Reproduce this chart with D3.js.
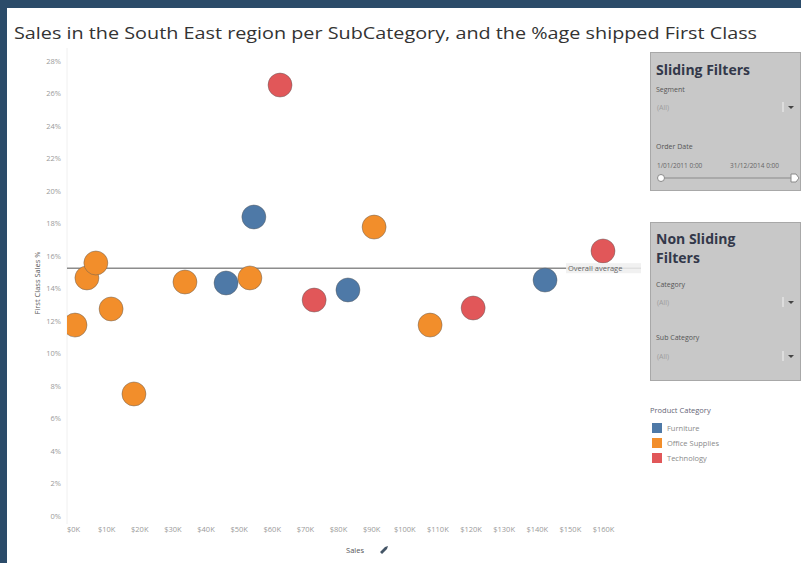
<!DOCTYPE html>
<html>
<head>
<meta charset="utf-8">
<script src="https://cdn.jsdelivr.net/npm/d3@7"></script>
<style>
  body { margin: 0; background: #ffffff; }
  svg { display: block; }
</style>
</head>
<body>
<svg id="chart" width="801" height="563"></svg>
<script>
// ---- data ----
const categories = ["Furniture", "Office Supplies", "Technology"];
const categoryColors = ["#4e79a7", "#f28e2b", "#e15759"];

// one entry per sub-category, ordered by sales
const pointCategory = [
  "Office Supplies", "Office Supplies", "Office Supplies", "Office Supplies",
  "Office Supplies", "Office Supplies", "Furniture", "Office Supplies",
  "Furniture", "Technology", "Technology", "Furniture", "Office Supplies",
  "Office Supplies", "Technology", "Furniture", "Technology"
];
const salesK = [0.6, 4.2, 6.9, 11.5, 18.4, 33.8, 46.2, 53.4, 54.6, 62.5, 72.8, 83.0, 90.9, 107.8, 120.8, 142.5, 160.0];
const firstClassPct = [11.75, 14.65, 15.57, 12.74, 7.51, 14.40, 14.34, 14.65, 18.40, 26.52, 13.29, 13.91, 17.78, 11.75, 12.80, 14.52, 16.31];
const overallAverage = 15.25;

const xTicks = [0, 10, 20, 30, 40, 50, 60, 70, 80, 90, 100, 110, 120, 130, 140, 150, 160];
const yTicks = [0, 2, 4, 6, 8, 10, 12, 14, 16, 18, 20, 22, 24, 26, 28];

const titleText = "Sales in the South East region per SubCategory, and the %age shipped First Class";

// ---- layout ----
const svg = d3.select("#chart");
const font = "'Open Sans', 'DejaVu Sans', sans-serif";

// dark frame
svg.append("rect").attr("x", 0).attr("y", 0).attr("width", 801).attr("height", 563).attr("fill", "#2b4b69");
svg.append("rect").attr("x", 7).attr("y", 8).attr("width", 794).attr("height", 555).attr("fill", "#ffffff");

svg.append("text")
  .attr("x", 14).attr("y", 39)
  .attr("font-family", font).attr("font-size", 17)
  .attr("fill", "#333333")
  .attr("textLength", 743).attr("lengthAdjust", "spacingAndGlyphs")
  .text(titleText);

const x = d3.scaleLinear().domain([0, 160]).range([73, 603]);
const y = d3.scaleLinear().domain([0, 28]).range([516, 61]);
const color = d3.scaleOrdinal().domain(categories).range(categoryColors);

const pane = { left: 67, right: 641, top: 48, bottom: 524 };

// pane clip
svg.append("defs").append("clipPath").attr("id", "paneClip")
  .append("rect")
  .attr("x", pane.left).attr("y", pane.top)
  .attr("width", pane.right - pane.left).attr("height", pane.bottom - pane.top);

// faint pane border on the left
svg.append("line")
  .attr("x1", pane.left).attr("x2", pane.left)
  .attr("y1", pane.top).attr("y2", pane.bottom)
  .attr("stroke", "#f0f0f0").attr("stroke-width", 1);

// y axis
const yAxis = d3.axisLeft(y).tickValues(yTicks).tickSize(0).tickPadding(0)
  .tickFormat(d => d + "%");
const gy = svg.append("g").attr("transform", "translate(61,0)").call(yAxis);
gy.select(".domain").remove();
gy.selectAll("text")
  .attr("font-family", font).attr("font-size", 7.5).attr("fill", "#9a9a9a");

svg.append("text")
  .attr("transform", "translate(40,283) rotate(-90)")
  .attr("text-anchor", "middle")
  .attr("font-family", font).attr("font-size", 7.5).attr("fill", "#555555")
  .text("First Class Sales %");

// x axis
const xAxis = d3.axisBottom(x).tickValues(xTicks).tickSize(0).tickPadding(0)
  .tickFormat(d => "$" + d + "K");
const gx = svg.append("g").attr("transform", "translate(0,527)").call(xAxis);
gx.select(".domain").remove();
gx.selectAll("text")
  .attr("font-family", font).attr("font-size", 7.5).attr("fill", "#9a9a9a");

svg.append("text")
  .attr("x", 355).attr("y", 553)
  .attr("text-anchor", "middle")
  .attr("font-family", font).attr("font-size", 7.5).attr("fill", "#555555")
  .text("Sales");
// small sort icon beside the axis title
svg.append("path")
  .attr("d", "M380,552 L385,547 L387,549 L382,554 Z M385,547 L388,546 L387,549 Z")
  .attr("fill", "#445566");

// reference line
const plot = svg.append("g").attr("clip-path", "url(#paneClip)");
plot.append("line")
  .attr("x1", pane.left).attr("x2", pane.right)
  .attr("y1", y(overallAverage)).attr("y2", y(overallAverage))
  .attr("stroke", "#8c8c8c").attr("stroke-width", 1.5);

// points
const points = salesK.map((s, i) => ({ s, p: firstClassPct[i], c: pointCategory[i] }));
plot.selectAll("circle.mark")
  .data(points)
  .join("circle")
  .attr("class", "mark")
  .attr("cx", d => x(d.s))
  .attr("cy", d => y(d.p))
  .attr("r", 12)
  .attr("fill", d => color(d.c))
  .attr("stroke", "rgba(90,90,90,0.45)")
  .attr("stroke-width", 1);

// reference line label
const refY = y(overallAverage);
svg.append("rect")
  .attr("x", 566).attr("y", refY - 5).attr("width", 75).attr("height", 10)
  .attr("fill", "#eeeeee").attr("fill-opacity", 0.85);
svg.append("text")
  .attr("x", 568).attr("y", refY + 3)
  .attr("font-family", font).attr("font-size", 7.5).attr("fill", "#666666")
  .text("Overall average");

// ---- filter panels ----
function panel(y0, h) {
  svg.append("rect")
    .attr("x", 650.5).attr("y", y0 + 0.5).attr("width", 150).attr("height", h)
    .attr("fill", "#c8c8c8").attr("stroke", "#a8a8a8").attr("stroke-width", 1);
}
function label(xp, yp, txt, size, fill, weight) {
  return svg.append("text")
    .attr("x", xp).attr("y", yp)
    .attr("font-family", font).attr("font-size", size)
    .attr("font-weight", weight || "normal")
    .attr("fill", fill).text(txt);
}
function dropdown(yp) {
  label(657, yp + 3, "(All)", 7, "#9d9d9d");
  svg.append("line").attr("x1", 783).attr("x2", 783).attr("y1", yp - 5).attr("y2", yp + 5)
    .attr("stroke", "#e4e4e4").attr("stroke-width", 1.5);
  svg.append("path").attr("d", `M788,${yp - 1} L794,${yp - 1} L791,${yp + 2} Z`).attr("fill", "#444");
}

panel(52, 138);
label(656, 75, "Sliding Filters", 14, "#33384a", "bold");
label(656, 92, "Segment", 7, "#555555");
dropdown(107);
label(656, 149, "Order Date", 7, "#555555");
label(657, 168, "1/01/2011 0:00", 6.5, "#666666");
label(730, 168, "31/12/2014 0:00", 6.5, "#666666");
svg.append("line").attr("x1", 661).attr("x2", 794).attr("y1", 178).attr("y2", 178)
  .attr("stroke", "#8a8a8a").attr("stroke-width", 1);
svg.append("circle").attr("cx", 661).attr("cy", 178).attr("r", 3.5)
  .attr("fill", "#ffffff").attr("stroke", "#8a8a8a");
svg.append("path").attr("d", "M791,174 L796,174 L799,178 L796,182 L791,182 Z")
  .attr("fill", "#ffffff").attr("stroke", "#8a8a8a");

panel(222, 158);
label(656, 244, "Non Sliding", 14, "#33384a", "bold");
label(656, 263, "Filters", 14, "#33384a", "bold");
label(656, 287, "Category", 7, "#555555");
dropdown(302);
label(656, 340, "Sub Category", 7, "#555555");
dropdown(356);

// ---- legend ----
label(650, 413, "Product Category", 7.5, "#666677");
categories.forEach((c, i) => {
  svg.append("rect")
    .attr("x", 652).attr("y", 423 + i * 15).attr("width", 10).attr("height", 10)
    .attr("fill", color(c));
  label(667, 431 + i * 15, c, 7.5, "#8a8a8a");
});
</script>
</body>
</html>
